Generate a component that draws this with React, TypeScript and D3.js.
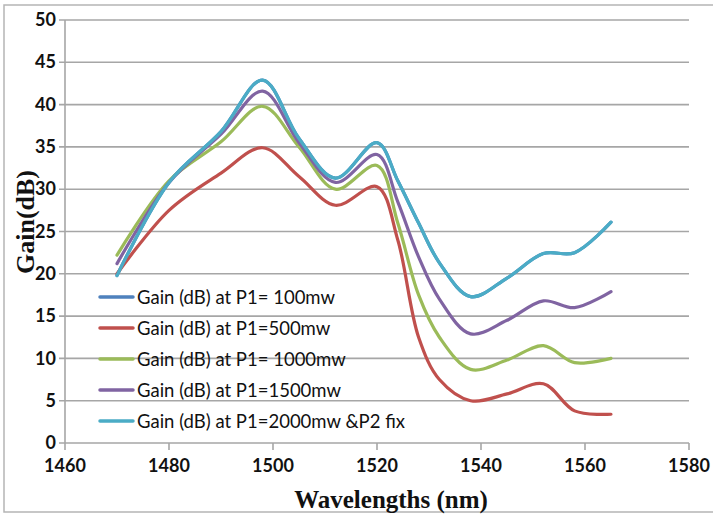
import React from "react";
import * as d3 from "d3";

const wavelengths = [1470, 1480, 1490, 1498, 1505, 1512, 1520, 1524, 1528, 1532, 1538, 1545, 1552, 1558, 1565];
const gain100 = [19.8, 30.8, 36.8, 42.9, 36.0, 31.3, 35.5, 31.0, 26.0, 21.3, 17.3, 19.5, 22.4, 22.5, 26.1];
const gain500 = [20.0, 27.5, 31.9, 34.9, 31.5, 28.1, 30.3, 24.0, 12.5, 7.5, 5.0, 5.8, 7.0, 3.8, 3.4];
const gain1000 = [22.2, 31.0, 35.6, 39.8, 35.0, 30.0, 32.8, 26.0, 17.5, 12.5, 8.7, 9.8, 11.5, 9.5, 10.0];
const gain1500 = [21.2, 30.8, 36.5, 41.6, 35.5, 30.8, 34.1, 28.5, 22.0, 17.0, 12.9, 14.5, 16.8, 16.0, 17.9];
const gain2000 = [19.8, 30.8, 36.8, 42.9, 36.0, 31.3, 35.5, 31.0, 26.0, 21.3, 17.3, 19.5, 22.4, 22.5, 26.1];
const seriesNames = [
  "Gain (dB) at P1= 100mw",
  "Gain (dB) at P1=500mw",
  "Gain (dB) at P1= 1000mw",
  "Gain (dB) at P1=1500mw",
  "Gain (dB) at P1=2000mw &P2 fix",
];
const seriesColors = ["#4F81BD", "#C0504D", "#9BBB59", "#8064A2", "#4BACC6"];
const xTicks = [1460, 1480, 1500, 1520, 1540, 1560, 1580];
const yTicks = [0, 5, 10, 15, 20, 25, 30, 35, 40, 45, 50];

export default function App() {
  const W = 713, H = 515;
  const x = d3.scaleLinear().domain([1460, 1580]).range([65, 689]);
  const y = d3.scaleLinear().domain([0, 50]).range([443, 20]);
  const all = [gain100, gain500, gain1000, gain1500, gain2000];
  const line = d3
    .line<[number, number]>()
    .x((d) => x(d[0]))
    .y((d) => y(d[1]))
    .curve(d3.curveCatmullRom.alpha(0.5));
  const tickFont = "Lato, 'Open Sans', sans-serif";
  return (
    <svg
      width={W}
      height={H}
      style={{ position: "absolute", left: 0, top: 0, background: "#fff" }}
    >
      <rect x={4} y={5} width={720} height={507} fill="#fff" stroke="#b5b5b5" strokeWidth={1.5} />
      {yTicks.map((t) => (
        <g key={"y" + t}>
          <line x1={x(1460) - 6} x2={x(1580)} y1={y(t)} y2={y(t)} stroke="#a6a6a6" strokeWidth={1.6} />
          <text
            x={x(1460) - 9}
            y={y(t)}
            dy="0.34em"
            textAnchor="end"
            fontFamily={tickFont}
            fontWeight="bold"
            fontSize={18}
            fill="#111"
          >
            {t}
          </text>
        </g>
      ))}
      <line x1={x(1460)} x2={x(1460)} y1={y(50)} y2={y(0)} stroke="#a6a6a6" strokeWidth={1.6} />
      {xTicks.map((t) => (
        <g key={"x" + t}>
          <line x1={x(t)} x2={x(t)} y1={y(0)} y2={y(0) + 7} stroke="#a6a6a6" strokeWidth={1.6} />
          <text
            x={x(t)}
            y={y(0) + 29}
            textAnchor="middle"
            fontFamily={tickFont}
            fontWeight="bold"
            fontSize={18}
            fill="#111"
          >
            {t}
          </text>
        </g>
      ))}
      {all.map((vals, i) => (
        <path
          key={"s" + i}
          d={line(wavelengths.map((w, j) => [w, vals[j]] as [number, number])) || ""}
          fill="none"
          stroke={seriesColors[i]}
          strokeWidth={3.2}
          strokeLinejoin="round"
          strokeLinecap="round"
        />
      ))}
      {seriesNames.map((n, i) => {
        const yy = 297 + i * 31;
        return (
          <g key={"l" + i}>
            <line x1={100} x2={133} y1={yy} y2={yy} stroke={seriesColors[i]} strokeWidth={3.5} strokeLinecap="round" />
            <text x={137} y={yy} dy="0.36em" fontFamily={tickFont} fontSize={18.5} fill="#111">
              {n}
            </text>
          </g>
        );
      })}
      <text
        transform={`translate(34, 222) rotate(-90)`}
        textAnchor="middle"
        fontFamily="'Liberation Serif', 'Times New Roman', serif"
        fontWeight="bold"
        fontSize={26}
        fill="#111"
      >
        Gain(dB)
      </text>
      <text
        x={391}
        y={508}
        textAnchor="middle"
        fontFamily="'Liberation Serif', 'Times New Roman', serif"
        fontWeight="bold"
        fontSize={25}
        fill="#111"
      >
        Wavelengths (nm)
      </text>
    </svg>
  );
}
